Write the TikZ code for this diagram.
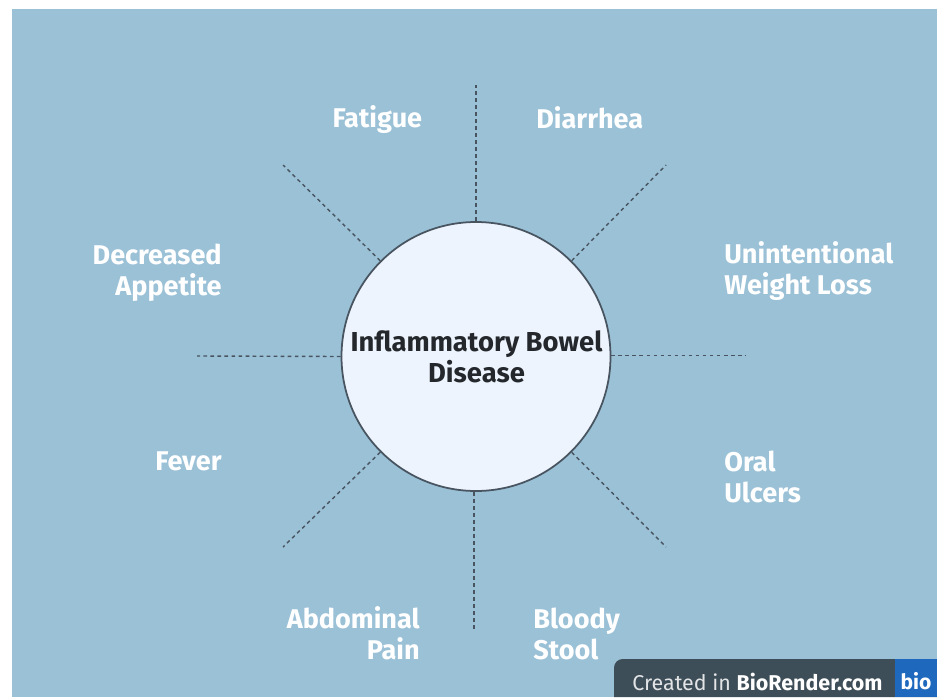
\documentclass[tikz,border=0pt]{standalone}
\usepackage{xcolor}
\usepackage{fontspec}
\setmainfont{Fira Sans}
\usetikzlibrary{positioning,calc}
\definecolor{mypanel}{RGB}{155,193,215}
\definecolor{mycircle}{RGB}{237,244,253}
\definecolor{myline}{RGB}{72,84,96}
\definecolor{mytext}{RGB}{36,40,44}
\definecolor{mybar}{RGB}{62,78,88}
\definecolor{mybio}{RGB}{30,105,190}

\begin{document}
\begin{tikzpicture}[x=0.02cm, y=-0.02cm]
    \tikzstyle{symptom}=[text=white, font=\bfseries\fontsize{15.4pt}{17.6pt}\selectfont, inner sep=0pt]
    \tikzstyle{leftlabel}=[symptom, anchor=east, align=right]
    \tikzstyle{rightlabel}=[symptom, anchor=west, align=left]
    \tikzstyle{spoke}=[draw=myline, line width=0.8pt, dash pattern=on 2.1pt off 1.9pt]
    \useasboundingbox (0,0) rectangle (937,697);
    \fill[mypanel] (12,9) rectangle (937,697);

    \node[circle, draw=myline, line width=1pt, fill=mycircle, minimum size=269*0.02cm, inner sep=0pt] (ibd) at (476,356.5) {};
    \node[font=\bfseries\fontsize{15.6pt}{17.6pt}\selectfont, text=mytext, align=center, inner sep=0pt] (ibdlabel) at (476.5,357) {Inflammatory Bowel\\Disease};

    % free ends of the dashed lines
    \coordinate (endn) at (476,85);
    \coordinate (endne) at (666,165);
    \coordinate (ende) at (745,355.5);
    \coordinate (endse) at (666,547);
    \coordinate (ends) at (474,630);
    \coordinate (endsw) at (283,547);
    \coordinate (endw) at (197,356);
    \coordinate (endnw) at (283,165);
    \draw[spoke] (ibd.90) -- (endn);
    \draw[spoke] (ibd.45) -- (endne);
    \draw[spoke] (ibd.east |- ende) -- (ende);
    \draw[spoke] (ibd.-45) -- (endse);
    \draw[spoke] (ends |- ibd.south) -- (ends);
    \draw[spoke] (ibd.-135) -- (endsw);
    \draw[spoke] (ibd.180) -- (endw);
    \draw[spoke] (ibd.135) -- (endnw);

    \node[leftlabel] (fatigue) at (422.5,120) {Fatigue};
    \node[rightlabel] (diarrhea) at (536,118) {Diarrhea};
    \node[leftlabel] (appetite) at (222,273) {Decreased\\Appetite};
    \node[rightlabel] (weight) at (724,271) {Unintentional\\Weight Loss};
    \node[leftlabel] (fever) at (222,461) {Fever};
    \node[rightlabel] (ulcers) at (724,477) {Oral\\Ulcers};
    \node[leftlabel] (pain) at (420,633) {Abdominal\\Pain};
    \node[rightlabel] (stool) at (533,634) {Bloody\\Stool};

    % badge in the corner
    \fill[mybar] (614,697) [rounded corners=5pt] -- (614,659) [sharp corners] -- (937,659) -- (937,697) -- cycle;
    \fill[mybio] (895,659) rectangle (937,697);
    \node[anchor=west, text=white!85!mybar, font=\fontsize{12.2pt}{14pt}\selectfont, inner sep=0pt] (created) at (632,682) {Created in \textbf{\textcolor{white}{BioRender.com}}};
    \node[text=white, font=\bfseries\fontsize{12pt}{14pt}\selectfont, inner sep=0pt] (bio) at (916,681) {bio};
  \end{tikzpicture}
\end{document}
